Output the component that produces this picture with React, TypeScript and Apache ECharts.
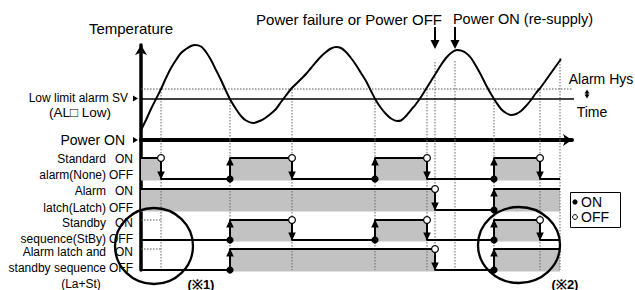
import React, { useEffect, useRef } from "react";
import * as echarts from "echarts";

// ---- data (time units along the x axis, temperature units on the y axis) ----
const END = 419; // end of the observed time span
const AXIS_MAX = 431; // length of the Power ON time axis
const SV = 41; // low limit alarm set value
const HYS = 10; // alarm hysteresis

const curveTime = [0, 5, 10, 15, 20, 25, 30, 35, 40, 45, 50, 54, 60, 65, 70, 75, 80, 85, 90, 95, 100, 105, 112, 120, 125, 130, 135, 140, 145, 150, 155, 160, 165, 170, 175, 180, 185, 190, 195, 200, 205, 210, 215, 220, 225, 230, 235, 240, 245, 250, 256, 260, 265, 270, 275, 280, 285, 290, 295, 300, 305, 310, 316, 320, 325, 330, 335, 340, 345, 350, 355, 360, 365, 370, 375, 380, 385, 390, 395, 400, 405, 410, 415, 420];
const curveTemp = [10, 20, 31, 41, 51, 62, 72, 80, 87, 91, 94, 95, 93.5, 88, 80, 70, 60, 49, 39, 31, 24, 19.5, 17, 19.5, 22.5, 26.5, 31, 38, 44.5, 51, 56, 61, 66, 72, 78, 83.5, 88, 91.5, 93, 92, 88, 82, 75, 67, 59, 49, 39.5, 32, 26, 21.5, 19, 19.5, 24, 30, 36, 43, 51, 59, 67, 75, 82, 87, 90, 89.5, 87, 82, 74, 65, 55, 46, 38, 31, 27, 25, 26, 29, 34, 40, 47, 53, 60, 67, 74, 81];

const eventTimes = [20, 89, 151, 234, 286, 294, 314, 353, 399, 419];
const eventTop = [51, 41, 51, 41, 51, 78, 79, 41, 51, 82];
const powerEvents = [294, 314]; // power failure, power re-supply

const rowNames = [
  ["Standard", "alarm(None)"],
  ["Alarm", "latch(Latch)"],
  ["Standby", "sequence(StBy)"],
  ["Alarm latch and", "standby sequence"],
];
const standardOn = [[0, 20], [89, 151], [234, 286], [353, 399]];
const latchOn = [[0, 294], [353, 419]];
const standbyOn = [[89, 151], [234, 286], [353, 399]];
const laStOn = [[89, 294], [353, 419]];
const rowIntervals = [standardOn, latchOn, standbyOn, laStOn];
const rowOff = [101, 70, 40, 10];
const rowOn = [122, 91, 60, 31];
const waitRows = [2, 3]; // rows with a suppressed (standby) first ON
const waitSpan = [0, 20];

const FONT = '"Liberation Sans", Arial, sans-serif';

function buildStep(intervals: number[][], off: number, on: number) {
  const pts: number[][] = [];
  const startOn = intervals.length && intervals[0][0] === 0;
  pts.push([0, startOn ? on : off]);
  for (const [a, e] of intervals) {
    if (a > 0) {
      pts.push([a, off]);
      pts.push([a, on]);
    }
    pts.push([e, on]);
    if (e < END) pts.push([e, off]);
  }
  const last = pts[pts.length - 1];
  if (last[0] < END) pts.push([END, last[1]]);
  return pts;
}

function txt(text: string, x: number, y: number, size: number, align: string, extra: any = {}) {
  return {
    type: "text",
    x,
    y,
    z: 20,
    style: {
      text,
      font: `${extra.bold ? "bold " : ""}${size}px ${FONT}`,
      fill: "#000",
      align,
      textAlign: align,
      verticalAlign: "middle",
      textVerticalAlign: "middle",
    },
  };
}

export default function App() {
  const ref = useRef<HTMLDivElement>(null);
  useEffect(() => {
    if (!ref.current) return;
    const chart = echarts.init(ref.current, null, { renderer: "svg" });

    const series: any[] = [];
    // temperature curve
    series.push({
      type: "line",
      xAxisIndex: 0,
      yAxisIndex: 0,
      data: curveTime.map((t, i) => [t, curveTemp[i]]),
      smooth: 0.3,
      symbol: "none",
      lineStyle: { color: "#000", width: 2 },
      clip: false,
      z: 6,
    });
    // SV line and SV + hysteresis line
    series.push({
      type: "line",
      xAxisIndex: 0,
      yAxisIndex: 0,
      data: [[0, SV], [456, SV]],
      symbol: "none",
      lineStyle: { color: "#000", width: 1.5 },
      clip: false,
      z: 4,
    });
    series.push({
      type: "line",
      xAxisIndex: 0,
      yAxisIndex: 0,
      data: [[0, SV + HYS], [454, SV + HYS]],
      symbol: "none",
      lineStyle: { color: "#555", width: 1, type: [1.5, 1.5] },
      clip: false,
      z: 4,
    });
    // event guide lines (temperature part)
    series.push({
      type: "custom",
      xAxisIndex: 0,
      yAxisIndex: 0,
      clip: false,
      z: 3,
      data: eventTimes.map((t, i) => [t, eventTop[i]]),
      renderItem: (params: any, api: any) => {
        const p1 = api.coord([api.value(0), api.value(1)]);
        const p2 = api.coord([api.value(0), 0]);
        return {
          type: "line",
          shape: { x1: p1[0], y1: p1[1], x2: p2[0], y2: p2[1] },
          style: { stroke: "#666", lineWidth: 1, lineDash: [1.5, 1.5] },
        };
      },
    });
    // power failure / re-supply arrows
    series.push({
      type: "custom",
      xAxisIndex: 0,
      yAxisIndex: 0,
      clip: false,
      z: 8,
      data: powerEvents.map((t) => [t, 113, 91]),
      renderItem: (params: any, api: any) => {
        const p1 = api.coord([api.value(0), api.value(1)]);
        const p2 = api.coord([api.value(0), api.value(2)]);
        const x = p1[0];
        return {
          type: "group",
          children: [
            { type: "line", shape: { x1: x, y1: p1[1], x2: x, y2: p2[1] - 7 }, style: { stroke: "#000", lineWidth: 2 } },
            { type: "polygon", shape: { points: [[x - 4.5, p2[1] - 9], [x + 4.5, p2[1] - 9], [x, p2[1]]] }, style: { fill: "#000" } },
          ],
        };
      },
    });

    // signal rows: grey ON areas
    const rects: number[][] = [];
    const trans: number[][] = [];
    rowIntervals.forEach((iv, r) => {
      iv.forEach(([a, e]) => {
        rects.push([a, e, rowOff[r], rowOn[r]]);
        if (a > 0) trans.push([a, rowOff[r], rowOn[r], 1]);
        if (e < END) trans.push([e, rowOff[r], rowOn[r], 0]);
      });
    });
    series.push({
      type: "custom",
      xAxisIndex: 1,
      yAxisIndex: 1,
      clip: false,
      z: 1,
      data: rects,
      renderItem: (params: any, api: any) => {
        const p1 = api.coord([api.value(0), api.value(3)]);
        const p2 = api.coord([api.value(1), api.value(2)]);
        return {
          type: "rect",
          shape: { x: p1[0], y: p1[1], width: p2[0] - p1[0], height: p2[1] - p1[1] + 1.5 },
          style: { fill: "#c2c2c2" },
        };
      },
    });
    // event guide lines (signal part)
    series.push({
      type: "custom",
      xAxisIndex: 1,
      yAxisIndex: 1,
      clip: false,
      z: 2,
      data: eventTimes.map((t) => [t, 10]),
      renderItem: (params: any, api: any) => {
        const p1 = api.coord([api.value(0), 140]);
        const p2 = api.coord([api.value(0), api.value(1)]);
        return {
          type: "line",
          shape: { x1: p1[0], y1: p1[1], x2: p2[0], y2: p2[1] },
          style: { stroke: "#666", lineWidth: 1, lineDash: [1.5, 1.5] },
        };
      },
    });
    // suppressed first ON (standby) dotted levels
    waitRows.forEach((r) => {
      series.push({
        type: "line",
        xAxisIndex: 1,
        yAxisIndex: 1,
        data: [[waitSpan[0], rowOn[r]], [waitSpan[1], rowOn[r]]],
        symbol: "none",
        lineStyle: { color: "#555", width: 1, type: [1.5, 1.5] },
        z: 2,
      });
    });
    // signal lines
    rowIntervals.forEach((iv, r) => {
      series.push({
        type: "line",
        xAxisIndex: 1,
        yAxisIndex: 1,
        data: buildStep(iv, rowOff[r], rowOn[r]),
        symbol: "none",
        lineStyle: { color: "#000", width: 2 },
        clip: false,
        z: 5,
      });
    });
    // transitions: arrows with ON/OFF markers
    series.push({
      type: "custom",
      xAxisIndex: 1,
      yAxisIndex: 1,
      clip: false,
      z: 9,
      data: trans,
      renderItem: (params: any, api: any) => {
        const t = api.value(0);
        const pOn = api.coord([t, api.value(2)]);
        const pOff = api.coord([t, api.value(1)]);
        const x = pOn[0];
        if (api.value(3) === 1) {
          return {
            type: "group",
            children: [
              { type: "line", shape: { x1: x, y1: pOff[1], x2: x, y2: pOn[1] + 6 }, style: { stroke: "#000", lineWidth: 2 } },
              { type: "polygon", shape: { points: [[x - 3.8, pOn[1] + 7.5], [x + 3.8, pOn[1] + 7.5], [x, pOn[1] - 0.5]] }, style: { fill: "#000" } },
              { type: "circle", shape: { cx: x, cy: pOff[1], r: 3.6 }, style: { fill: "#000" } },
            ],
          };
        }
        return {
          type: "group",
          children: [
            { type: "line", shape: { x1: x, y1: pOn[1] + 3, x2: x, y2: pOff[1] - 6 }, style: { stroke: "#000", lineWidth: 2 } },
            { type: "polygon", shape: { points: [[x - 3.8, pOff[1] - 7.5], [x + 3.8, pOff[1] - 7.5], [x, pOff[1] + 0.5]] }, style: { fill: "#000" } },
            { type: "circle", shape: { cx: x, cy: pOn[1], r: 3.4 }, style: { fill: "#fff", stroke: "#000", lineWidth: 1.2 } },
          ],
        };
      },
    });

    const rowY = [[159, 175], [191, 208], [223, 239], [252, 268]];
    const graphic: any[] = [
      txt("Temperature", 131, 28, 15, "center"),
      txt("Low limit alarm SV", 128, 98, 12, "right"),
      txt("(AL\u25A1 Low)", 80, 112, 13.5, "center"),
      txt("Power ON", 125, 140, 14, "right"),
      txt("Power failure or Power OFF", 349, 19, 15, "center"),
      txt("Power ON (re-supply)", 523, 19, 14.5, "center"),
      txt("Alarm Hys", 601, 79, 14, "center"),
      txt("Time", 592, 112, 14, "center"),
      txt("(\u203B1)", 201, 284, 13, "center", { bold: true }),
      txt("(\u203B2)", 565, 284, 13, "center", { bold: true }),
      txt("(La+St)", 81, 284, 12, "center"),
      { type: "polygon", z: 20, shape: { points: [[133, 95.5], [138, 98.5], [133, 101.5]] }, style: { fill: "#000" } },
      { type: "polygon", z: 20, shape: { points: [[133, 137], [138, 140], [133, 143]] }, style: { fill: "#000" } },
      // alarm hysteresis double arrow
      { type: "line", z: 20, shape: { x1: 587, y1: 92, x2: 587, y2: 96 }, style: { stroke: "#000", lineWidth: 1.5 } },
      { type: "polygon", z: 20, shape: { points: [[584.5, 93.5], [589.5, 93.5], [587, 89.5]] }, style: { fill: "#000" } },
      { type: "polygon", z: 20, shape: { points: [[584.5, 94.5], [589.5, 94.5], [587, 98.5]] }, style: { fill: "#000" } },
      // note circles
      { type: "ellipse", z: 15, shape: { cx: 154, cy: 246, rx: 39, ry: 38 }, style: { fill: "none", stroke: "#000", lineWidth: 2.3 } },
      { type: "ellipse", z: 15, shape: { cx: 519, cy: 245, rx: 41, ry: 38 }, style: { fill: "none", stroke: "#000", lineWidth: 2.3 } },
      // legend
      { type: "rect", z: 20, shape: { x: 570.5, y: 192.5, width: 50, height: 35 }, style: { fill: "#fff", stroke: "#000", lineWidth: 1 } },
      { type: "circle", z: 21, shape: { cx: 575, cy: 202, r: 2.6 }, style: { fill: "#000" } },
      { type: "circle", z: 21, shape: { cx: 575, cy: 217, r: 2.4 }, style: { fill: "#fff", stroke: "#000", lineWidth: 1 } },
      txt("ON", 581, 202, 14, "left"),
      txt("OFF", 581, 217, 14, "left"),
    ];
    rowNames.forEach((nm, r) => {
      graphic.push(txt(nm[0], 106, rowY[r][0], 12, "right"));
      graphic.push(txt(nm[1], 106, rowY[r][1], 12, "right"));
      graphic.push(txt("ON", 133, rowY[r][0], 12, "right"));
      graphic.push(txt("OFF", 133, rowY[r][1], 12, "right"));
    });

    const noAxisDecor = { axisTick: { show: false }, axisLabel: { show: false }, splitLine: { show: false } };
    chart.setOption({
      animation: false,
      backgroundColor: "#fff",
      grid: [
        { left: 141, top: 45, width: AXIS_MAX, height: 95, outerBoundsMode: "none" },
        { left: 141, top: 140, width: AXIS_MAX, height: 130, outerBoundsMode: "none" },
      ],
      xAxis: [
        {
          gridIndex: 0,
          type: "value",
          min: 0,
          max: AXIS_MAX,
          axisLine: { show: true, lineStyle: { color: "#000", width: 4 }, symbol: ["none", "arrow"], symbolSize: [9, 9] },
          ...noAxisDecor,
        },
        { gridIndex: 1, type: "value", min: 0, max: AXIS_MAX, show: false },
      ],
      yAxis: [
        {
          gridIndex: 0,
          type: "value",
          min: 0,
          max: 95,
          axisLine: { show: true, lineStyle: { color: "#000", width: 3.5 }, symbol: ["none", "arrow"], symbolSize: [9, 10] },
          ...noAxisDecor,
        },
        {
          gridIndex: 1,
          type: "value",
          min: 10,
          max: 140,
          axisLine: { show: true, lineStyle: { color: "#000", width: 3.5 } },
          ...noAxisDecor,
        },
      ],
      series,
      graphic,
    });
    return () => chart.dispose();
  }, []);
  return (
    <div
      ref={ref}
      style={{ position: "fixed", left: 0, top: 0, width: 635, height: 290, background: "#fff" }}
    />
  );
}
